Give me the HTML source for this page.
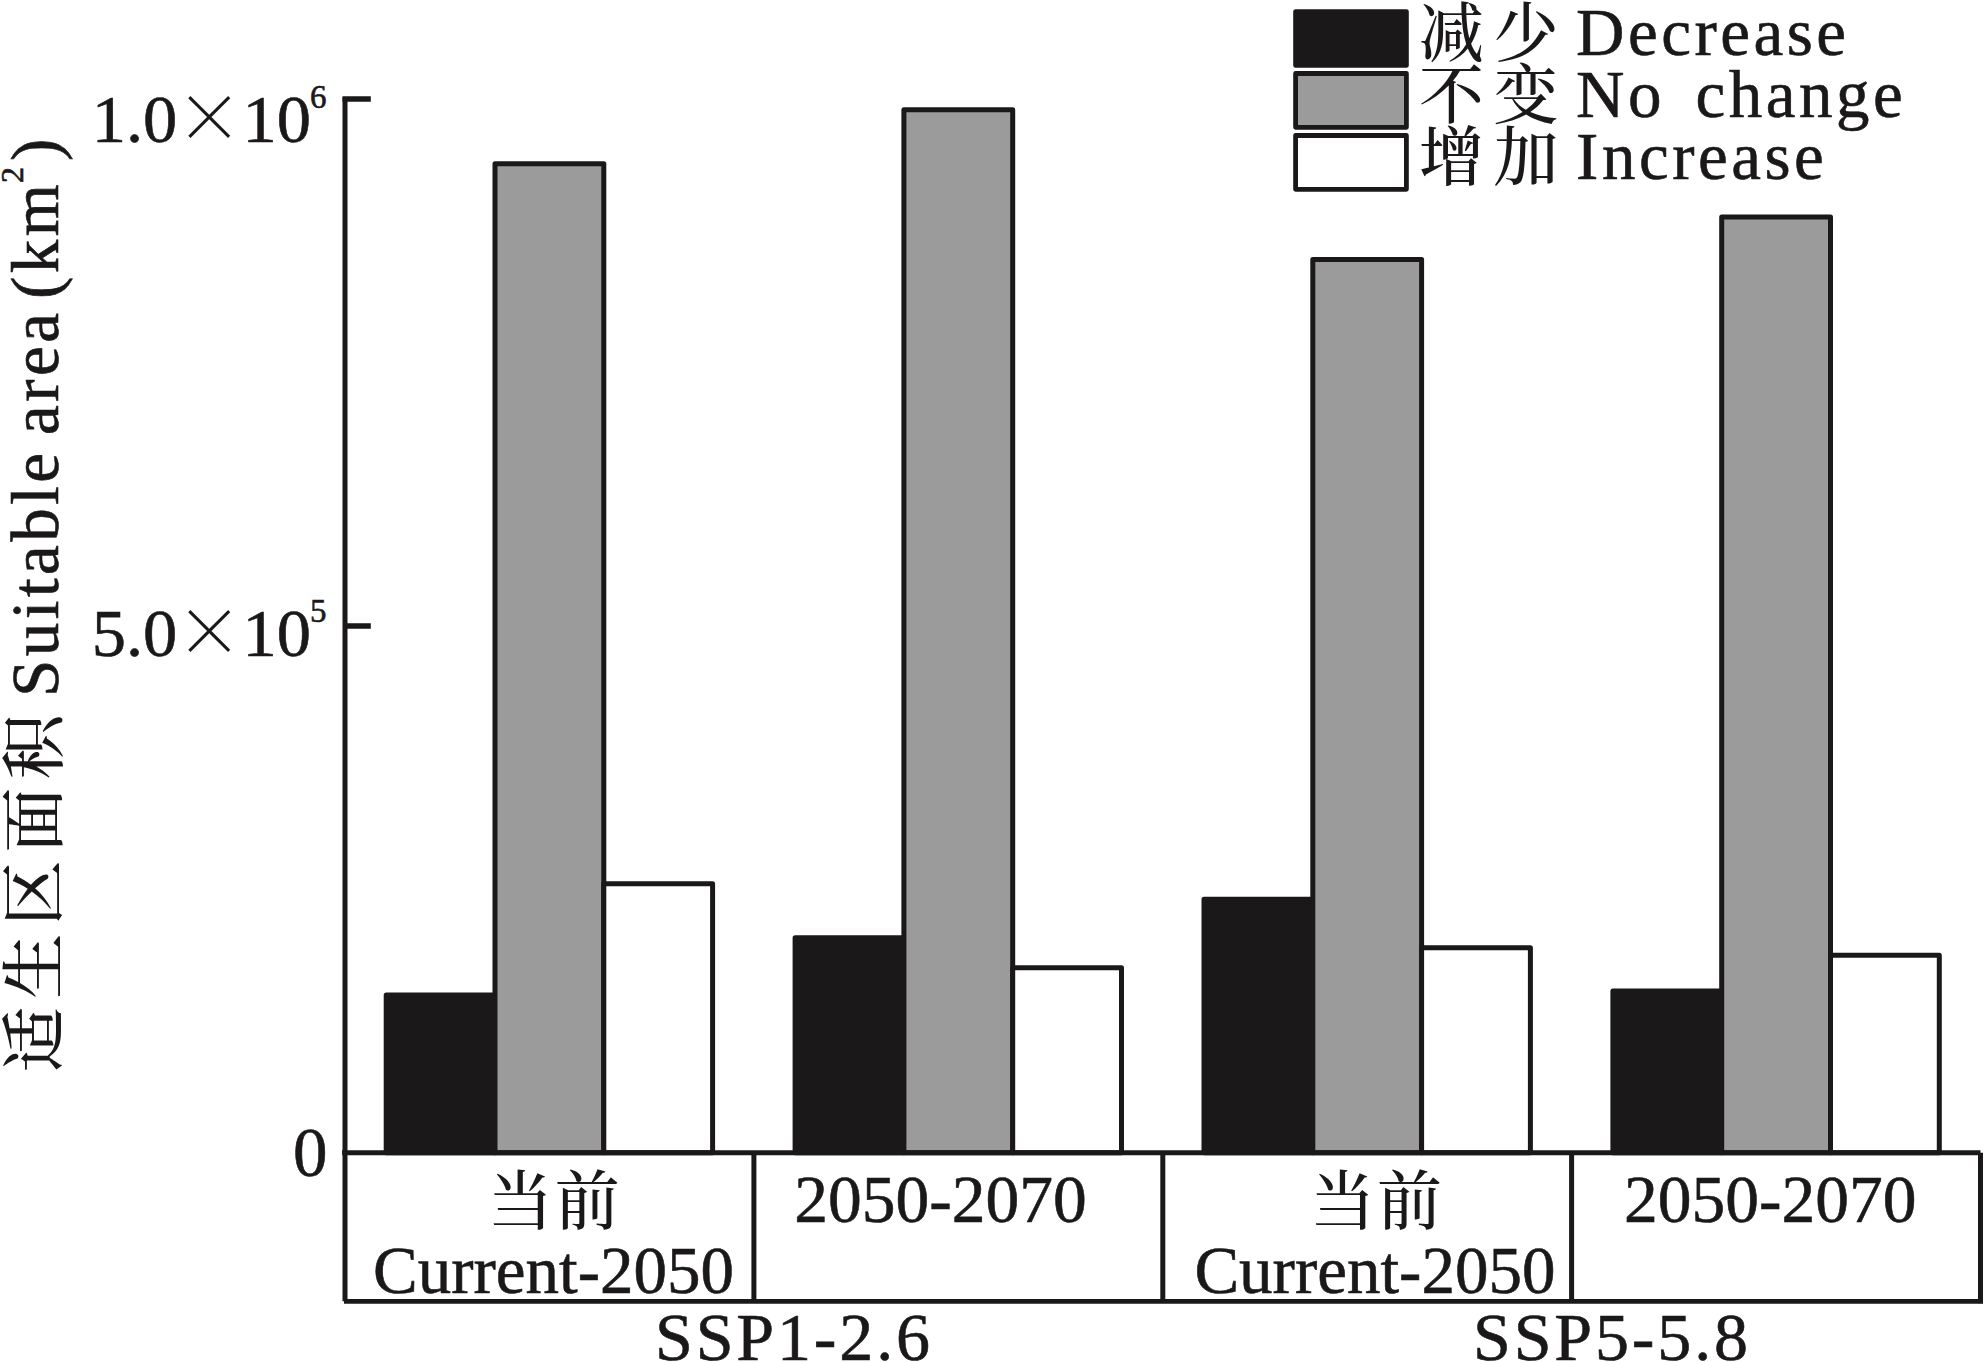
<!DOCTYPE html>
<html lang="zh"><head><meta charset="utf-8"><title>Suitable area change</title>
<style>html,body{margin:0;padding:0;background:#fff;overflow:hidden}svg{display:block}text{fill:#1b1819;stroke:#1b1819;stroke-width:0.6;font-family:"Liberation Serif", "Noto Serif CJK SC", serif;white-space:pre}.c{font-family:"Liberation Serif", "Noto Serif CJK SC", serif;font-weight:500;stroke:none}.x{font-family:"Noto Serif CJK SC", "Liberation Serif", serif;font-weight:500;stroke:none}</style></head><body>
<svg width="1983" height="1362" viewBox="0 0 1983 1362">
<rect x="0" y="0" width="1983" height="1362" fill="#fff"/>
<g stroke="#1b1819" stroke-width="5.0" stroke-linejoin="round">
<rect x="386.2" y="994.9" width="108.8" height="157.8" fill="#1b1819"/>
<rect x="495.0" y="163.8" width="108.8" height="988.9" fill="#9b9b9b"/>
<rect x="603.8" y="883.7" width="108.8" height="269.0" fill="#fff"/>
<rect x="795.1" y="937.8" width="108.8" height="214.9" fill="#1b1819"/>
<rect x="903.9" y="109.8" width="108.8" height="1042.9" fill="#9b9b9b"/>
<rect x="1012.7" y="967.7" width="108.8" height="185.0" fill="#fff"/>
<rect x="1204.0" y="899.2" width="108.8" height="253.5" fill="#1b1819"/>
<rect x="1312.8" y="259.5" width="108.8" height="893.2" fill="#9b9b9b"/>
<rect x="1421.6" y="947.7" width="108.8" height="205.0" fill="#fff"/>
<rect x="1612.9" y="990.9" width="108.8" height="161.8" fill="#1b1819"/>
<rect x="1721.7" y="216.9" width="108.8" height="935.8" fill="#9b9b9b"/>
<rect x="1830.5" y="955.2" width="108.8" height="197.5" fill="#fff"/>
</g>
<g stroke="#1b1819" stroke-width="5.0" fill="none" stroke-linecap="butt">
<path d="M345.0 97V1301.2"/>
<path d="M342.1 1152.7H1980.5"/>
<path d="M1980.5 1152.7V1303.3"/>
<path d="M344.0 1301.3H1983.0" stroke-width="4.8"/>
<path d="M342.5 98.9H370.8M345.0 626H370.8" stroke-width="5.5"/>
<path d="M753.9 1152.7V1301.2"/>
<path d="M1162.8 1152.7V1301.2"/>
<path d="M1571.6 1152.7V1301.2"/>
</g>
<g stroke="#1b1819" stroke-width="4.8" stroke-linejoin="round">
<rect x="1295.6" y="11.6" width="110.8" height="53.8" fill="#1b1819"/>
<rect x="1295.6" y="73.5" width="110.8" height="53.8" fill="#9b9b9b"/>
<rect x="1295.6" y="135.5" width="110.8" height="53.8" fill="#fff"/>
</g>
<text class="c" x="1419 1493.5" y="56.0" font-size="65">减少</text>
<text x="1576.1" y="55.4" font-size="67" letter-spacing="3.5">Decrease</text>
<text class="c" x="1419 1493.5" y="117.8" font-size="65">不变</text>
<text x="1576.1" y="117.1" font-size="67" letter-spacing="3.5">No</text>
<text x="1695.6" y="117.1" font-size="67" letter-spacing="3.5">change</text>
<text class="c" x="1419 1493.5" y="179.7" font-size="65">增加</text>
<text x="1576.1" y="179.0" font-size="67" letter-spacing="3.5">Increase</text>
<text y="142.0" font-size="68.5"><tspan x="91.7">1.0</tspan><tspan class="x" x="175" font-size="68.5">×</tspan><tspan x="242.6">10</tspan><tspan x="310" dy="-34" font-size="33">6</tspan></text>
<text y="656.0" font-size="68.5"><tspan x="91.7">5.0</tspan><tspan class="x" x="175" font-size="68.5">×</tspan><tspan x="242.6">10</tspan><tspan x="310" dy="-34" font-size="33">5</tspan></text>
<text x="293" y="1176" font-size="69">0</text>
<g transform="translate(57.7 1075) rotate(-90)">
<text class="c" x="3 76.2 149.4 222.6 295.8" y="-0.7" font-size="65">适生区面积</text>
<text y="0" font-size="67" letter-spacing="3.5"><tspan x="378">Suitable</tspan><tspan x="640">area</tspan><tspan x="776">(km</tspan><tspan x="892" dy="-35" font-size="32">2</tspan><tspan x="914" dy="35">)</tspan></text>
</g>
<text class="c" x="487.7 554.7" y="1223.6" font-size="65">当前</text>
<text x="553.5" y="1293.1" font-size="67" text-anchor="middle">Current-2050</text>
<text class="c" x="1309.9 1376.9" y="1223.6" font-size="65">当前</text>
<text x="1374.9" y="1293.1" font-size="67" text-anchor="middle">Current-2050</text>
<text x="940.4" y="1222.3" font-size="67.5" text-anchor="middle">2050-2070</text>
<text x="1770.3" y="1222.3" font-size="67.5" text-anchor="middle">2050-2070</text>
<text x="655" y="1359.5" font-size="68" letter-spacing="2.85">SSP1-2.6</text>
<text x="1473" y="1359.5" font-size="68" letter-spacing="2.85">SSP5-5.8</text>
</svg></body></html>
